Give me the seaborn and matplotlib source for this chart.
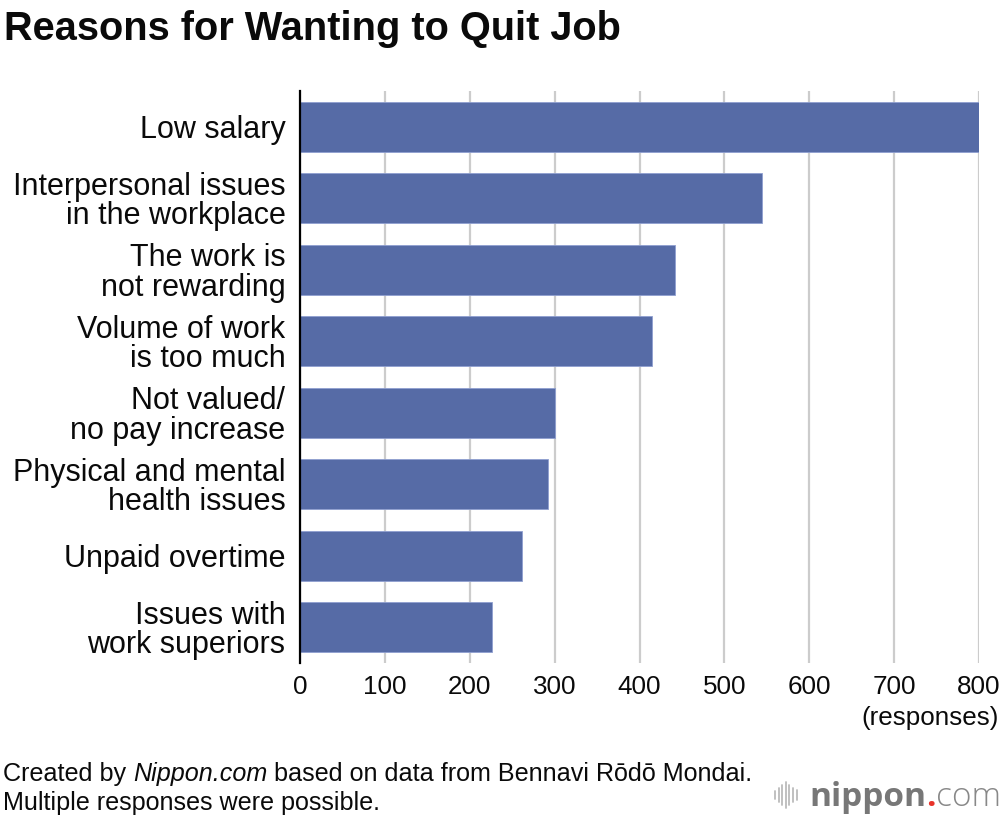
import matplotlib
matplotlib.use("Agg")
import matplotlib.pyplot as plt
import seaborn as sns
import pandas as pd
from matplotlib.lines import Line2D

categories = [
    "Low salary",
    "Interpersonal issues\nin the workplace",
    "The work is\nnot rewarding",
    "Volume of work\nis too much",
    "Not valued/\nno pay increase",
    "Physical and mental\nhealth issues",
    "Unpaid overtime",
    "Issues with\nwork superiors",
]
responses = [801, 544, 442, 415, 300, 292, 261, 226]
x_ticks = [0, 100, 200, 300, 400, 500, 600, 700, 800]

sns.set_theme(style="white")
plt.rcParams['font.family'] = ['Liberation Sans', 'DejaVu Sans']

df = pd.DataFrame({"reason": categories, "responses": responses})

fig = plt.figure(figsize=(10, 8.18), dpi=100)
ax = fig.add_axes([0.300, 1 - 663 / 818, 0.679, (663 - 91) / 818])

sns.barplot(data=df, x="responses", y="reason", orient="h", color="#566ba6",
            saturation=1, width=0.70, edgecolor="#8f9fd0", linewidth=0.6, ax=ax, zorder=3)

ax.set_xlim(0, 800)
ax.set_ylim(7.5, -0.5)
ax.set_xticks(x_ticks)
ax.set_xticklabels([str(t) for t in x_ticks], fontsize=18.7, color="#0a0a0a")
ax.tick_params(axis="x", length=0, pad=9)
ax.tick_params(axis="y", length=0, pad=10.5, labelsize=22, labelcolor="#0a0a0a")
for lbl in ax.get_yticklabels():
    lbl.set_linespacing(0.98)
ax.set_xlabel("")
ax.set_ylabel("")
ax.grid(axis="x", color="#cccccc", linewidth=1.6, zorder=0)
ax.grid(axis="y", visible=False)
for s in ["top", "right", "bottom"]:
    ax.spines[s].set_visible(False)
ax.spines["left"].set_color("#000000")
ax.spines["left"].set_linewidth(1.6)
ax.spines["left"].set_zorder(5)

fig.text(0.999, 1 - 718 / 818, "(responses)", ha="right", va="center", fontsize=18.7, color="#0a0a0a")

fig.text(0.004, 1 - 40 / 818, "Reasons for Wanting to Quit Job", ha="left", va="baseline",
         fontsize=28.6, fontweight="bold", color="#0a0a0a")

# footer with italic part
fig.canvas.draw()
r = fig.canvas.get_renderer()
y1 = 1 - 781 / 818
x = 0.003
parts = [("Created by ", "normal"), ("Nippon.com", "italic"),
         (" based on data from Bennavi Rōdō Mondai.", "normal")]
for txt, st in parts:
    t = fig.text(x, y1, txt, ha="left", va="baseline", fontsize=18.1, style=st, color="#0a0a0a")
    bb = t.get_window_extent(renderer=r)
    x = bb.x1 / fig.bbox.width
fig.text(0.003, 1 - 810 / 818, "Multiple responses were possible.", ha="left", va="baseline",
         fontsize=18.1, color="#0a0a0a")

# logo
yb = 1 - 806 / 818
x = 0.809
for txt, col, wt in [("nippon", "#777777", "bold"), (".", "#e8332a", "bold"), ("com", "#888888", "light")]:
    t = fig.text(x, yb, txt, ha="left", va="baseline", fontsize=24, fontweight=wt, color=col,
                 family=["Open Sans", "DejaVu Sans"])
    bb = t.get_window_extent(renderer=r)
    x = bb.x1 / fig.bbox.width
heights = [8, 14, 20, 26, 20, 14, 10]
for i, h in enumerate(heights):
    xp = (775 + i * 3.6) / 1000
    fig.add_artist(Line2D([xp, xp], [1 - (795 - h / 2) / 818, 1 - (795 + h / 2) / 818],
                          color="#bbbbbb", linewidth=1.3, transform=fig.transFigure))

fig.savefig("out.png", dpi=100)
